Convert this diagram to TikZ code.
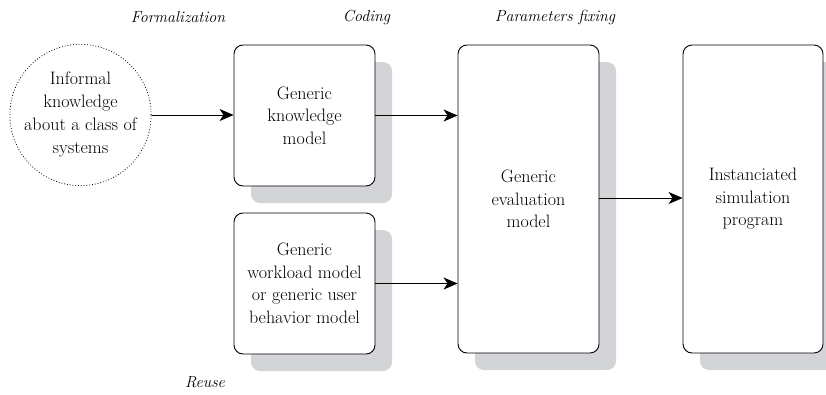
\documentclass[tikz,border=0pt]{standalone}
\usetikzlibrary{arrows.meta,shadows}
\definecolor{shadowgray}{RGB}{211,212,215}
\tikzset{
  box/.style={draw=black, line width=0.9pt, rounded corners=9pt, fill=white,
    align=center, inner sep=0pt, font=\fontsize{18}{22.5}\selectfont,
    drop shadow={shadow xshift=17pt, shadow yshift=-17pt, fill=shadowgray, opacity=1}},
  cloud/.style={circle, draw=black, dotted, line width=0.8pt, minimum size=140pt,
    align=center, inner sep=0pt, font=\fontsize{18}{23}\selectfont},
  arr/.style={-{Stealth[length=14pt,width=12pt,inset=4pt]}, line width=0.8pt},
  phase/.style={font=\fontsize{16}{19}\selectfont\itshape, inner sep=0pt}
}
\begin{document}
\begin{tikzpicture}[x=1pt,y=-1pt]
\useasboundingbox (0,0) rectangle (826,394);
\node[cloud] (inf) at (80.5,115) {Informal\\knowledge\\about a class of\\systems};
\node[box, minimum width=141pt, minimum height=141pt] (gk) at (304.5,115.5) {Generic\\knowledge\\model};
\node[box, minimum width=141pt, minimum height=141pt] (gw) at (304.5,283.5) {Generic\\workload model\\or generic user\\behavior model};
\node[box, minimum width=141pt, minimum height=308pt] (ge) at (528.5,199) {Generic\\evaluation\\model};
\node[box, minimum width=140pt, minimum height=308pt] (is) at (753,199) {Instanciated\\simulation\\program};
\node[phase] (pf) at (178,17) {Formalization};
\node[phase] (pc) at (366.5,17) {Coding};
\node[phase] (pp) at (555,17) {Parameters fixing};
\node[phase] (pr) at (205,382) {Reuse};
\draw[arr] (inf.east) -- (inf.east -| gk.west);
\draw[arr] (gk.east) -- (gk.east -| ge.west);
\draw[arr] (gw.east) -- (gw.east -| ge.west);
\draw[arr] ([yshift=1pt]ge.east) -- ([yshift=1pt]is.west);
\end{tikzpicture}
\end{document}
